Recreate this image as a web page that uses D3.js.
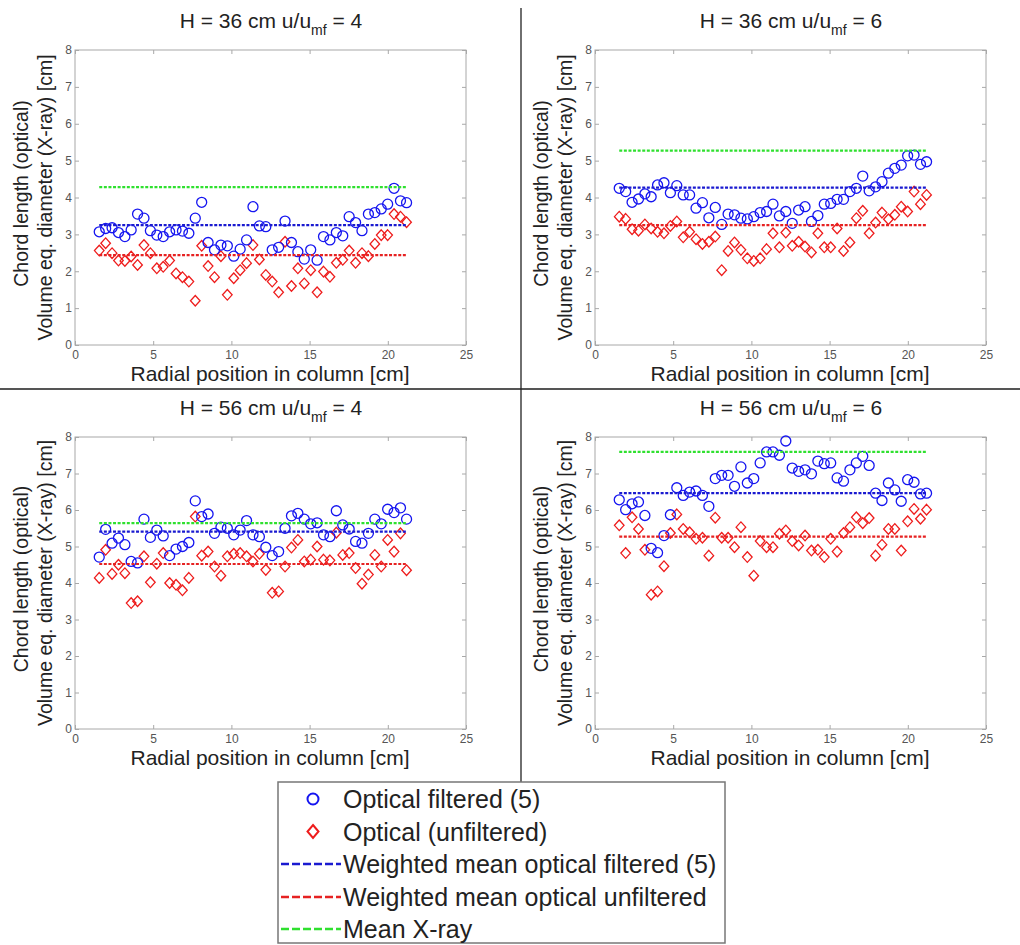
<!DOCTYPE html>
<html>
<head>
<meta charset="utf-8">
<script src="https://cdn.jsdelivr.net/npm/d3@7"></script>
<style>
  html, body { margin: 0; padding: 0; background: #fff; }
  svg { display: block; font-family: "Liberation Sans", Arial, Helvetica, sans-serif; }
</style>
</head>
<body>
<svg id="chart" width="1020" height="945"></svg>
<script>
// ---------------- DATA ----------------
const radialPos = [1.55, 1.96, 2.37, 2.78, 3.19, 3.59, 4.00, 4.41, 4.82, 5.23, 5.64, 6.05, 6.46, 6.87, 7.28, 7.69,
  8.10, 8.51, 8.92, 9.33, 9.74, 10.15, 10.56, 10.97, 11.38, 11.79, 12.20, 12.61, 13.02, 13.43, 13.84, 14.25,
  14.66, 15.07, 15.48, 15.89, 16.30, 16.71, 17.12, 17.53, 17.94, 18.35, 18.76, 19.17, 19.58, 19.99, 20.40, 20.81, 21.20];

const panelTitles = [
  { pre: "H = 36 cm u/u", sub: "mf", post: " = 4" },
  { pre: "H = 36 cm u/u", sub: "mf", post: " = 6" },
  { pre: "H = 56 cm u/u", sub: "mf", post: " = 4" },
  { pre: "H = 56 cm u/u", sub: "mf", post: " = 6" }
];

// H = 36 cm, u/umf = 4
const filtered36_4 = [3.07, 3.16, 3.18, 3.05, 2.94, 3.12, 3.55, 3.44, 3.10, 2.98, 2.94, 3.07, 3.12, 3.09, 3.03, 3.44,
  3.87, 2.78, 2.58, 2.71, 2.69, 2.41, 2.60, 2.85, 3.75, 3.23, 3.21, 2.58, 2.65, 3.36, 2.78, 2.53,
  2.33, 2.58, 2.30, 2.94, 2.85, 3.05, 2.96, 3.48, 3.32, 3.10, 3.55, 3.59, 3.69, 3.82, 4.25, 3.91, 3.86];
const unfiltered36_4 = [2.56, 2.76, 2.49, 2.29, 2.28, 2.40, 2.17, 2.71, 2.49, 2.08, 2.12, 2.29, 1.94, 1.84, 1.72, 1.20,
  2.69, 2.14, 1.84, 2.41, 1.36, 1.81, 2.03, 2.22, 2.71, 2.32, 1.90, 1.72, 1.43, 2.80, 1.60, 2.08,
  1.67, 2.03, 1.43, 1.99, 1.85, 2.23, 2.31, 2.56, 2.23, 2.49, 2.41, 2.74, 2.98, 2.98, 3.55, 3.48, 3.33];

// H = 36 cm, u/umf = 6
const filtered36_6 = [4.25, 4.16, 3.87, 3.96, 4.10, 4.02, 4.34, 4.40, 4.13, 4.32, 4.07, 4.07, 3.71, 3.86, 3.45, 3.73,
  3.27, 3.55, 3.53, 3.44, 3.42, 3.48, 3.59, 3.62, 3.82, 3.50, 3.62, 3.30, 3.66, 3.75, 3.35, 3.51,
  3.82, 3.84, 3.95, 3.95, 4.16, 4.25, 4.58, 4.18, 4.29, 4.43, 4.66, 4.79, 4.88, 5.13, 5.15, 4.90, 4.97];
const unfiltered36_6 = [3.48, 3.42, 3.14, 3.10, 3.27, 3.16, 3.07, 3.03, 3.23, 3.35, 2.92, 3.07, 2.87, 2.74, 2.80, 2.94,
  2.03, 2.55, 2.78, 2.58, 2.35, 2.28, 2.35, 2.60, 3.03, 2.65, 3.05, 2.69, 2.80, 2.67, 2.51, 3.03,
  2.65, 2.65, 3.16, 2.55, 2.78, 3.44, 3.64, 3.03, 3.32, 3.59, 3.41, 3.53, 3.75, 3.62, 4.16, 3.82, 4.07];

// H = 56 cm, u/umf = 4
const filtered56_4 = [4.71, 5.47, 5.09, 5.23, 5.05, 4.59, 4.55, 5.75, 5.25, 5.45, 5.29, 4.75, 4.93, 5.00, 5.11, 6.25,
  5.82, 5.89, 5.36, 5.53, 5.50, 5.32, 5.45, 5.71, 5.32, 5.27, 4.98, 4.75, 4.86, 5.50, 5.84, 5.91,
  5.75, 5.62, 5.65, 5.32, 5.27, 5.98, 5.59, 5.48, 5.14, 5.09, 5.36, 5.75, 5.62, 6.02, 5.93, 6.06, 5.75];
const unfiltered56_4 = [4.14, 4.91, 4.25, 4.50, 4.27, 3.45, 3.50, 4.73, 4.02, 4.53, 4.82, 4.00, 3.95, 3.80, 4.14, 5.82,
  4.75, 4.86, 4.45, 4.20, 4.73, 4.80, 4.82, 4.73, 4.59, 4.80, 4.36, 3.73, 3.77, 4.45, 4.97, 5.18,
  4.59, 4.64, 5.00, 4.64, 4.62, 5.38, 4.77, 4.82, 4.41, 3.98, 4.23, 4.77, 4.45, 5.18, 4.86, 5.36, 4.35];

// H = 56 cm, u/umf = 6
const filtered56_6 = [6.28, 6.01, 6.17, 6.22, 5.85, 4.95, 4.83, 5.30, 5.87, 6.61, 6.40, 6.49, 6.52, 6.40, 6.10, 6.86,
  6.95, 6.95, 6.65, 7.18, 6.74, 6.86, 7.29, 7.59, 7.59, 7.50, 7.89, 7.15, 7.06, 7.10, 6.99, 7.34,
  7.27, 7.29, 6.88, 6.79, 7.10, 7.29, 7.47, 7.22, 6.46, 6.26, 6.74, 6.55, 6.24, 6.83, 6.76, 6.44, 6.46];
const unfiltered56_6 = [5.58, 4.82, 5.80, 5.48, 4.91, 3.68, 3.77, 4.46, 5.37, 5.88, 5.48, 5.39, 5.21, 5.24, 4.75, 5.79,
  5.24, 5.24, 4.98, 5.53, 4.71, 4.20, 5.15, 4.98, 4.98, 5.35, 5.44, 5.15, 5.03, 5.30, 4.89, 4.91,
  4.71, 5.21, 4.86, 5.37, 5.53, 5.80, 5.64, 5.78, 4.75, 5.05, 5.48, 5.48, 4.89, 5.69, 6.03, 5.76, 6.01];

// weighted means / mean X-ray per panel (TL, TR, BL, BR)
const meanFiltered   = [3.25, 4.27, 5.41, 6.46];
const meanUnfiltered = [2.44, 3.25, 4.52, 5.27];
const meanXray       = [4.28, 5.27, 5.64, 7.59];

const xTicks = [0, 5, 10, 15, 20, 25];
const yTicks = [0, 1, 2, 3, 4, 5, 6, 7, 8];

const legendLabels = [
  "Optical filtered (5)",
  "Optical (unfiltered)",
  "Weighted mean optical filtered (5)",
  "Weighted mean optical unfiltered",
  "Mean X-ray"
];

const xLabel = "Radial position in column [cm]";
const yLabel1 = "Chord length (optical)";
const yLabel2 = "Volume eq. diameter (X-ray) [cm]";

// ---------------- STYLE / LAYOUT ----------------
const COL_BLUE = "#1515f0";
const COL_RED = "#ee1c1c";
const COL_GREEN = "#2fe02f";
const COL_BLUE_LINE = "#1a1ad0";
const COL_RED_LINE = "#e62222";

const panels = [
  { left: 75,  top: 50,  title: panelTitles[0], filt: filtered36_4, unf: unfiltered36_4, i: 0 },
  { left: 595, top: 50,  title: panelTitles[1], filt: filtered36_6, unf: unfiltered36_6, i: 1 },
  { left: 75,  top: 437, title: panelTitles[2], filt: filtered56_4, unf: unfiltered56_4, i: 2 },
  { left: 595, top: 437, title: panelTitles[3], filt: filtered56_6, unf: unfiltered56_6, i: 3 }
];
const PW = 391, PH_TOP = 295, PH_BOT = 292;

const svg = d3.select("#chart");
svg.append("rect").attr("width", 1020).attr("height", 945).attr("fill", "#fff");

const diamondPath = "M0,-5.3L4.8,0L0,5.3L-4.8,0Z";

panels.forEach(p => {
  const ph = p.top < 200 ? PH_TOP : PH_BOT;
  const x = d3.scaleLinear().domain([0, 25]).range([p.left, p.left + PW]);
  const y = d3.scaleLinear().domain([0, 8]).range([p.top + ph, p.top]);
  const g = svg.append("g");

  // axes box
  g.append("rect").attr("x", p.left).attr("y", p.top).attr("width", PW).attr("height", ph)
    .attr("fill", "#fff").attr("stroke", "#a8a8a8").attr("stroke-width", 1);

  const styleAxis = sel => {
    sel.select(".domain").remove();
    sel.selectAll(".tick line").attr("stroke", "#a8a8a8");
    sel.selectAll(".tick text").attr("fill", "#555").style("font-size", "12px")
      .style("font-family", "'Liberation Sans Narrow', 'Liberation Sans', Arial, sans-serif");
  };

  g.append("g").attr("transform", `translate(0,${p.top + ph})`)
    .call(d3.axisBottom(x).tickValues(xTicks).tickSize(-4).tickPadding(5).tickFormat(d3.format("d")))
    .call(styleAxis);
  g.append("g").attr("transform", `translate(0,${p.top})`)
    .call(d3.axisTop(x).tickValues(xTicks).tickSize(-4).tickFormat(""))
    .call(styleAxis);
  g.append("g").attr("transform", `translate(${p.left},0)`)
    .call(d3.axisLeft(y).tickValues(yTicks).tickSize(-4).tickPadding(3).tickFormat(d3.format("d")))
    .call(styleAxis);
  g.append("g").attr("transform", `translate(${p.left + PW},0)`)
    .call(d3.axisRight(y).tickValues(yTicks).tickSize(-4).tickFormat(""))
    .call(styleAxis);

  // title
  const t = g.append("text").attr("x", p.left + 196).attr("y", p.top - 22)
    .attr("text-anchor", "middle").attr("fill", "#222").style("font-size", "21px");
  t.append("tspan").text(p.title.pre);
  t.append("tspan").text(p.title.sub).attr("dy", 7).style("font-size", "14px");
  t.append("tspan").text(p.title.post).attr("dy", -7);

  // x label
  g.append("text").attr("x", p.left + 195).attr("y", p.top + ph + 36)
    .attr("text-anchor", "middle").attr("fill", "#222").style("font-size", "21px").text(xLabel);

  // y labels
  const cy = p.top + ph / 2;
  g.append("text").attr("transform", `translate(${p.left - 47},${cy - 4}) rotate(-90)`)
    .attr("text-anchor", "middle").attr("fill", "#222").style("font-size", "19.5px").text(yLabel1);
  g.append("text").attr("transform", `translate(${p.left - 23},${cy}) rotate(-90)`)
    .attr("text-anchor", "middle").attr("fill", "#222").style("font-size", "19.5px").text(yLabel2);

  // mean lines
  const [x0, x1] = d3.extent(radialPos);
  const means = [
    { v: meanXray[p.i], c: COL_GREEN },
    { v: meanFiltered[p.i], c: COL_BLUE_LINE },
    { v: meanUnfiltered[p.i], c: COL_RED_LINE }
  ];

  // unfiltered diamonds
  g.append("g").selectAll("path").data(p.unf).join("path")
    .attr("d", diamondPath)
    .attr("transform", (d, i) => `translate(${x(radialPos[i])},${y(d)})`)
    .attr("fill", "none").attr("stroke", COL_RED).attr("stroke-width", 1.3);

  // filtered circles
  g.append("g").selectAll("circle").data(p.filt).join("circle")
    .attr("cx", (d, i) => x(radialPos[i])).attr("cy", d => y(d)).attr("r", 5)
    .attr("fill", "none").attr("stroke", COL_BLUE).attr("stroke-width", 1.3);

  g.append("g").selectAll("line").data(means).join("line")
    .attr("x1", x(x0)).attr("x2", x(x1))
    .attr("y1", d => y(d.v)).attr("y2", d => y(d.v))
    .attr("stroke", d => d.c).attr("stroke-width", 2.2).attr("stroke-dasharray", "3,1.6");
});

// divider lines
svg.append("line").attr("x1", 0).attr("x2", 1020).attr("y1", 389).attr("y2", 389)
  .attr("stroke", "#555").attr("stroke-width", 2);
svg.append("line").attr("x1", 521).attr("x2", 521).attr("y1", 8).attr("y2", 782)
  .attr("stroke", "#222").attr("stroke-width", 1.3);

// legend
const lg = svg.append("g");
lg.append("rect").attr("x", 278).attr("y", 782).attr("width", 447).attr("height", 161)
  .attr("fill", "#fff").attr("stroke", "#777").attr("stroke-width", 1.5);
const rowBase = [808, 840.5, 873, 906, 938];
const legendSym = [
  { type: "circle", c: COL_BLUE },
  { type: "diamond", c: COL_RED },
  { type: "line", c: COL_BLUE_LINE },
  { type: "line", c: COL_RED_LINE },
  { type: "line", c: COL_GREEN }
];
legendLabels.forEach((lab, i) => {
  const yb = rowBase[i];
  const ym = yb - 9;
  const s = legendSym[i];
  if (s.type === "circle") {
    lg.append("circle").attr("cx", 313).attr("cy", ym).attr("r", 5.5)
      .attr("fill", "none").attr("stroke", s.c).attr("stroke-width", 2);
  } else if (s.type === "diamond") {
    lg.append("path").attr("d", "M0,-6.5L5.5,0L0,6.5L-5.5,0Z").attr("transform", `translate(313,${ym})`)
      .attr("fill", "none").attr("stroke", s.c).attr("stroke-width", 2);
  } else {
    lg.append("line").attr("x1", 281).attr("x2", 341).attr("y1", ym).attr("y2", ym)
      .attr("stroke", s.c).attr("stroke-width", 2.5).attr("stroke-dasharray", "8,3");
  }
  lg.append("text").attr("x", 343).attr("y", yb).attr("fill", "#222")
    .style("font-size", "25px").text(lab);
});
</script>
</body>
</html>
